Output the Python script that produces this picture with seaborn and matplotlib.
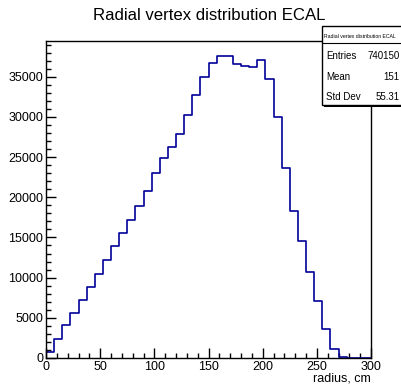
import numpy as np
import pandas as pd
import seaborn as sns
import matplotlib.pyplot as plt
from matplotlib.patches import Rectangle
from matplotlib.ticker import MultipleLocator

# histogram contents: 40 bins of 7.5 cm from 0 to 300
n_bins = 40
r_range = (0, 300)
counts = [700, 2400, 4060, 5550, 7200, 8850, 10510, 12160, 13990, 15550,
          17170, 18900, 20810, 23050, 24910, 26230, 27890, 30200, 32770, 34920,
          36650, 37570, 37570, 36530, 36370, 36240, 37030, 34750, 30040, 23620,
          18330, 14610, 10640, 7110, 3640, 1120, 150, 20, 0, 0]
bin_edges = np.linspace(r_range[0], r_range[1], n_bins + 1)
df = pd.DataFrame({'radius': (bin_edges[:-1] + bin_edges[1:]) / 2, 'n': counts})

stat_names = ['Entries', 'Mean', 'Std Dev']
stat_values = ['740150', '151', '55.31']

sns.set_style('white')
plt.rcParams['font.family'] = ['Liberation Sans', 'DejaVu Sans']
plt.rcParams['text.color'] = 'black'

fig = plt.figure(figsize=(4.01, 3.85), dpi=100)
ax = fig.add_axes([46 / 401, 1 - 358 / 385, 325 / 401, 317 / 385])

sns.histplot(data=df, x='radius', weights='n', bins=n_bins, binrange=r_range,
             element='step', fill=False, color='#000099', linewidth=1.2, ax=ax)

ax.set_xlim(*r_range)
ax.set_ylim(0, max(counts) * 1.05)
ax.set_ylabel('')
ax.set_xlabel('radius, cm', fontsize=9, ha='right', va='top', color='black')
ax.xaxis.set_label_coords(1.0, -0.047)

ax.xaxis.set_major_locator(MultipleLocator(50))
ax.xaxis.set_minor_locator(MultipleLocator(10))
ax.yaxis.set_major_locator(MultipleLocator(5000))
ax.yaxis.set_minor_locator(MultipleLocator(1000))
ax.tick_params(which='both', direction='in', colors='black', labelsize=9,
               labelcolor='black', top=False, right=False, bottom=True,
               left=True, width=1)
ax.tick_params(which='major', length=7, pad=2)
ax.tick_params(which='minor', length=3.5)
for s in ax.spines.values():
    s.set_color('black')
    s.set_linewidth(1)

fig.text(0.522, 1 - 15 / 385, 'Radial vertex distribution ECAL',
         ha='center', va='center', fontsize=12.1, color='black')

# stats box in the top right corner, partly off the canvas
W, H = 401, 385
def fx(px):
    return px / W
def fy(py):
    return 1 - py / H

fig.patches.append(Rectangle((fx(324), fy(107)), fx(90), 79 / H,
                             transform=fig.transFigure, facecolor='black',
                             edgecolor='none', zorder=5))
fig.patches.append(Rectangle((fx(322), fy(105)), fx(90), 79 / H,
                             transform=fig.transFigure, facecolor='white',
                             edgecolor='black', linewidth=1, zorder=6))
fig.add_artist(plt.Line2D([fx(322), fx(401)], [fy(42.5), fy(42.5)],
                          transform=fig.transFigure, color='black',
                          linewidth=0.8, zorder=7))
fig.text(fx(324), fy(36.5), 'Radial vertex distribution ECAL', fontsize=3.7,
         ha='left', va='center', zorder=8)
for i, (name, val) in enumerate(zip(stat_names, stat_values)):
    y = fy(56 + 20.5 * i)
    fig.text(fx(326.5), y, name, fontsize=7, ha='left', va='center', zorder=8)
    fig.text(fx(399.5), y, val, fontsize=7, ha='right', va='center', zorder=8)

fig.savefig('out.png', dpi=100)
